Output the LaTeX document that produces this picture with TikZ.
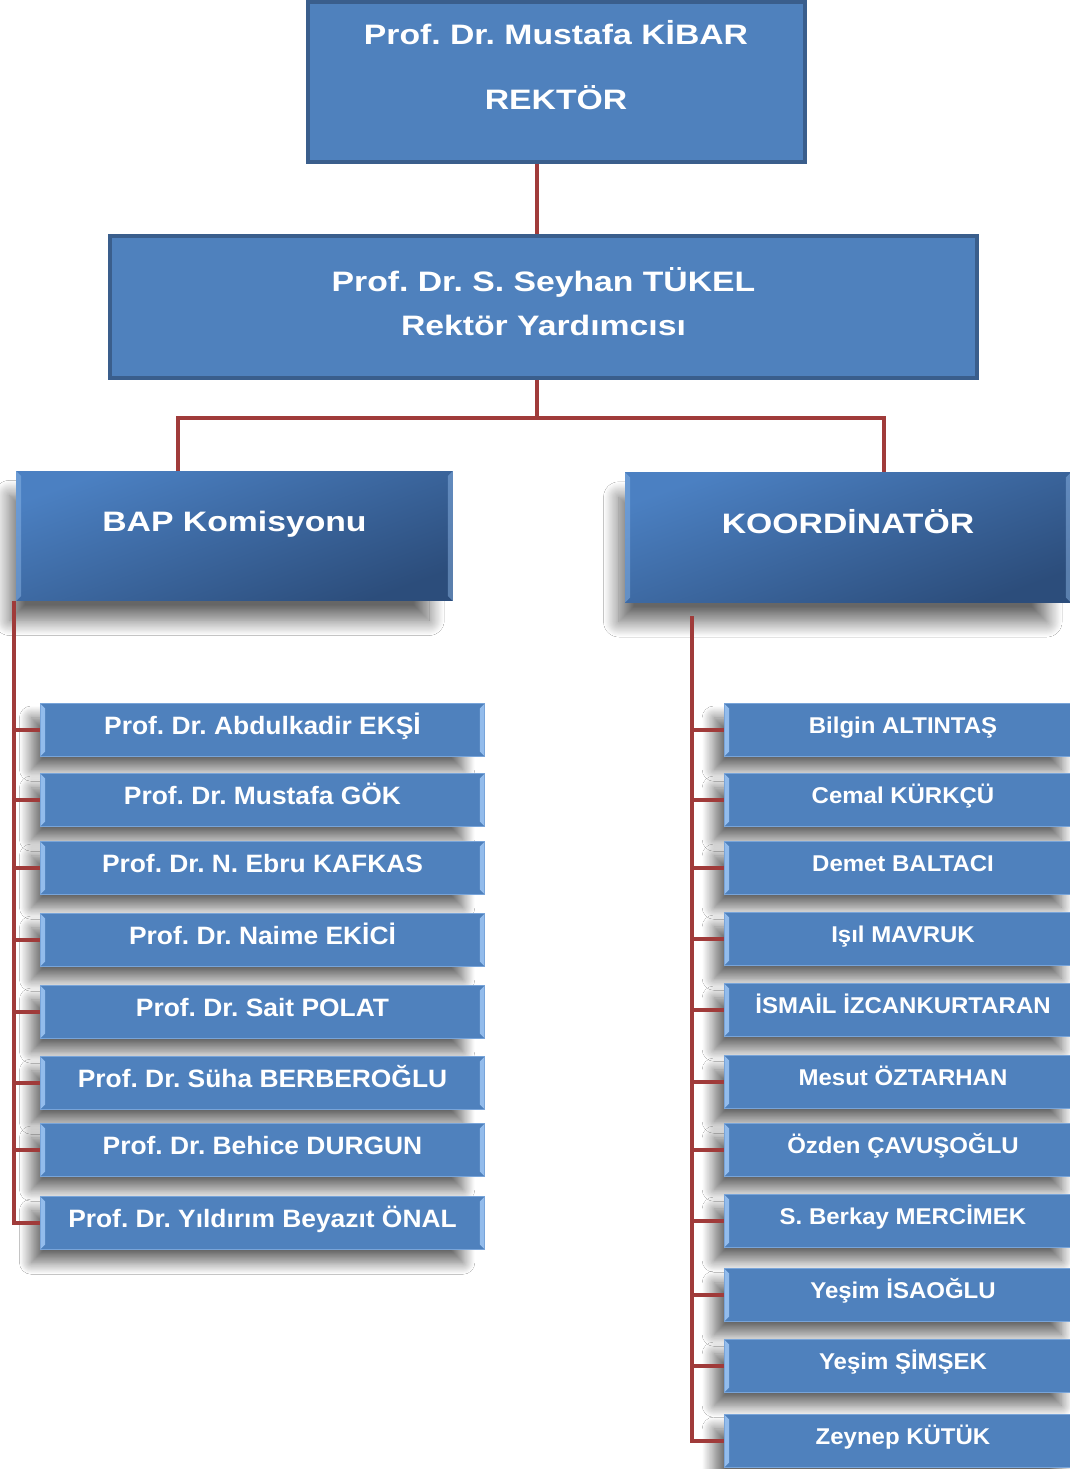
\documentclass[tikz,border=0pt]{standalone}
\usepackage{fontspec}
\setmainfont{Liberation Sans}[FakeStretch=1.05]
\newfontfamily\headfont{Liberation Sans}[FakeStretch=1.2]
\usepackage{xcolor}
\usepackage{tikz}
\usetikzlibrary{positioning, shadows.blur}
\frenchspacing

\definecolor{boxblue}{HTML}{4F81BD}
\definecolor{boxedge}{HTML}{3A5E8C}
\definecolor{headtop}{HTML}{4B80C2}
\definecolor{headbot}{HTML}{2C4D7B}
\definecolor{bevelblue}{HTML}{93BCEC}
\definecolor{linkred}{HTML}{A03B3A}

\begin{document}
\begin{tikzpicture}[
    x=0.02cm, y=-0.02cm, % one unit = one pixel of the layout
    every node/.style={text=white, inner sep=0pt},
    bevelsides/.style={path picture={
        \fill[#1] (path picture bounding box.north west) -- ++(5,5)
            -- ([shift={(5,-5)}]path picture bounding box.south west)
            -- (path picture bounding box.south west) -- cycle;
        \fill[#1] (path picture bounding box.north east) -- ++(-5,5)
            -- ([shift={(-5,-5)}]path picture bounding box.south east)
            -- (path picture bounding box.south east) -- cycle;
    }},
    topbox/.style={draw=boxedge, line width=2pt, fill=boxblue},
    headline/.style={anchor=base, font=\headfont\bfseries\fontsize{16}{19}\selectfont},
    headbox/.style={top color=headtop, bottom color=headbot, shading angle=20,
        minimum height=2.6cm, text height=12pt, text depth=17pt,
        font=\headfont\bfseries\fontsize{16}{19}\selectfont,
        bevelsides={bevelblue, opacity=0.45},
        blur shadow={shadow xshift=-9pt, shadow yshift=-13pt, shadow scale=0.96,
            shadow blur radius=9pt, shadow blur steps=20, shadow opacity=60}},
    member/.style={fill=boxblue, draw=bevelblue!60!boxblue, line width=0.6pt,
        minimum height=1.06cm, bevelsides=bevelblue,
        blur shadow={shadow xshift=-9pt, shadow yshift=-8pt, shadow scale=0.97,
            shadow blur radius=7pt, shadow blur steps=20, shadow opacity=60}},
    leftmember/.style={member, minimum width=8.9cm, text height=10pt, text depth=5.4pt,
        font=\bfseries\fontsize{14.3}{17}\selectfont},
    rightmember/.style={member, minimum width=7.16cm, text height=9.5pt, text depth=5pt,
        font=\bfseries\fontsize{13}{16}\selectfont},
    link/.style={draw=linkred, line width=1.9pt}
]
    \path[fill=white, use as bounding box] (0,0) rectangle (1070,1469);

    % 1. Define the nodes using explicit coordinates
    \node[topbox, minimum width=9.94cm, minimum height=3.2cm] (rektor) at (556.5,82) {};
    \node[headline] (rektorname) at (556,45) {Prof. Dr. Mustafa KİBAR};
    \node[headline] (rektortitle) at (556,110) {REKTÖR};

    \node[topbox, minimum width=17.34cm, minimum height=2.84cm] (yard) at (543.5,307) {};
    \node[headline] (yardname) at (543.5,292) {Prof. Dr. S. Seyhan TÜKEL};
    \node[headline] (yardtitle) at (543.5,336) {Rektör Yardımcısı};

    \node[headbox, minimum width=8.74cm] (bap) at (234.5,536) {BAP Komisyonu};
    \node[headbox, minimum width=8.92cm] (koord) at (848,537.5) {KOORDİNATÖR};

    % BAP members
    \node[leftmember] (b1) at (262.5,730) {Prof. Dr. Abdulkadir EKŞİ};
    \node[leftmember] (b2) at (262.5,800) {Prof. Dr. Mustafa GÖK};
    \node[leftmember] (b3) at (262.5,868) {Prof. Dr. N. Ebru KAFKAS};
    \node[leftmember] (b4) at (262.5,940) {Prof. Dr. Naime EKİCİ};
    \node[leftmember] (b5) at (262.5,1012) {Prof. Dr. Sait POLAT};
    \node[leftmember] (b6) at (262.5,1083) {Prof. Dr. Süha BERBEROĞLU};
    \node[leftmember] (b7) at (262.5,1150) {Prof. Dr. Behice DURGUN};
    \node[leftmember] (b8) at (262.5,1223) {Prof. Dr. Yıldırım Beyazıt ÖNAL};

    % coordinator staff
    \node[rightmember] (k1) at (903,730) {Bilgin ALTINTAŞ};
    \node[rightmember] (k2) at (903,800) {Cemal KÜRKÇÜ};
    \node[rightmember] (k3) at (903,868) {Demet BALTACI};
    \node[rightmember] (k4) at (903,939) {Işıl MAVRUK};
    \node[rightmember] (k5) at (903,1010) {İSMAİL İZCANKURTARAN};
    \node[rightmember] (k6) at (903,1082) {Mesut ÖZTARHAN};
    \node[rightmember] (k7) at (903,1150) {Özden ÇAVUŞOĞLU};
    \node[rightmember] (k8) at (903,1221) {S. Berkay MERCİMEK};
    \node[rightmember] (k9) at (903,1295) {Yeşim İSAOĞLU};
    \node[rightmember] (k10) at (903,1366) {Yeşim ŞİMŞEK};
    \node[rightmember] (k11) at (903,1441) {Zeynep KÜTÜK};

    % junction points of the tree
    \coordinate (split) at (537,418);
    \coordinate (bapdrop) at (178,418);
    \coordinate (koorddrop) at (884,418);
    \coordinate (lspine) at (14,601);
    \coordinate (rspine) at (692,616);

    % 2. Draw the connectors

    % rektor -> rektor yardimcisi
    \draw[link] (rektor.south -| split) -- (yard.north -| split);

    % rektor yardimcisi -> both branches
    \draw[link] (yard.south -| split) -- (split);
    \draw[link] (bap.north -| bapdrop) -- (bapdrop) -- (koorddrop) -- (koord.north -| koorddrop);

    % BAP spine and stubs
    \draw[link] (lspine) |- (b8.west);
    \draw[link] (b1.west -| lspine) -- (b1.west);
    \draw[link] (b2.west -| lspine) -- (b2.west);
    \draw[link] (b3.west -| lspine) -- (b3.west);
    \draw[link] (b4.west -| lspine) -- (b4.west);
    \draw[link] (b5.west -| lspine) -- (b5.west);
    \draw[link] (b6.west -| lspine) -- (b6.west);
    \draw[link] (b7.west -| lspine) -- (b7.west);

    % coordinator spine and stubs
    \draw[link] (rspine) |- (k11.west);
    \draw[link] (k1.west -| rspine) -- (k1.west);
    \draw[link] (k2.west -| rspine) -- (k2.west);
    \draw[link] (k3.west -| rspine) -- (k3.west);
    \draw[link] (k4.west -| rspine) -- (k4.west);
    \draw[link] (k5.west -| rspine) -- (k5.west);
    \draw[link] (k6.west -| rspine) -- (k6.west);
    \draw[link] (k7.west -| rspine) -- (k7.west);
    \draw[link] (k8.west -| rspine) -- (k8.west);
    \draw[link] (k9.west -| rspine) -- (k9.west);
    \draw[link] (k10.west -| rspine) -- (k10.west);

\end{tikzpicture}
\end{document}
